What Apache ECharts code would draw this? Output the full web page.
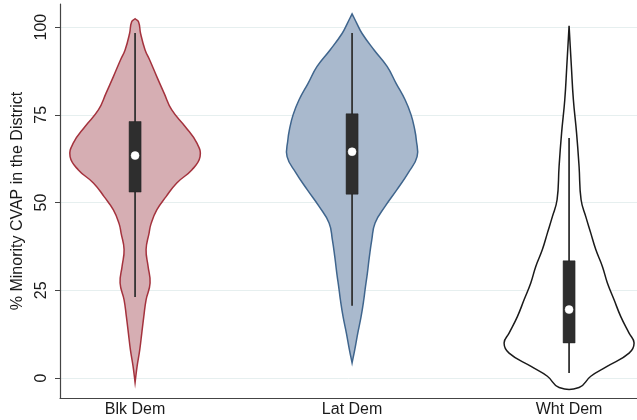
<!DOCTYPE html>
<html>
<head>
<meta charset="utf-8">
<script src="https://cdn.jsdelivr.net/npm/echarts@6/dist/echarts.min.js"></script>
<style>
  html, body { margin: 0; padding: 0; background: #fff; }
  #chart { width: 637px; height: 420px; }
</style>
</head>
<body>
<div id="chart"></div>
<script>
// ---- data ----
const categories = ['Blk Dem', 'Lat Dem', 'Wht Dem'];
const yTicks = [0, 25, 50, 75, 100];

// density profiles (value on y, relative density)
const blkY       = [102.4, 101.5, 98.2, 93.5, 90.7, 85.9, 81.2, 76.4, 71.7, 67.0, 63.1, 59.3, 55.6, 51.7, 47.9, 44.0, 41.3, 36.6, 31.8, 27.1, 22.3, 17.5, 12.8, 8.1, 3.3, -1.3];
const blkDensity = [0, 3.5, 5.5, 10, 14.5, 21.7, 29, 36.7, 50, 61.7, 65, 56.7, 41.7, 31, 21.7, 16, 14, 11, 13, 15, 11, 8.7, 6.7, 4.7, 2, 0];

const latY       = [103.8, 101.1, 98.2, 93.5, 88.8, 84.0, 79.3, 75.0, 71.0, 67.9, 63.1, 58.4, 53.6, 48.9, 44.2, 39.4, 34.6, 29.9, 25.2, 22.3, 17.5, 12.8, 8.1, 4.3];
const latDensity = [0, 4.7, 10, 22, 35, 44, 53, 59, 62.5, 64.2, 65, 56, 44.7, 33, 23, 19.7, 17.3, 15.3, 13, 11.7, 9, 5.7, 2.7, 0];

const whtY       = [100.4, 88.8, 79.3, 69.8, 60.3, 50.8, 46.0, 41.3, 36.6, 31.8, 27.1, 22.3, 17.5, 12.8, 10.0, 7.1, 3.3, 0.5, -2.7];
const whtDensity = [0, 2.3, 4.3, 7.5, 10, 12, 16.7, 21.7, 26.7, 33.3, 38.3, 45, 51.7, 60, 65, 60, 38, 21.7, 10];

// box plot statistics
const whiskerHigh = [98.3, 98.3, 68.4];
const q3          = [73.1, 75.3, 33.4];
const median      = [63.4, 64.5, 19.5];
const q1          = [53.0, 52.4, 10.0];
const whiskerLow  = [23.1, 20.6, 1.4];

// ---- styles ----
const fills   = ['#d6aeb3', '#a9b9cd', '#ffffff'];
const strokes = ['#a4323d', '#3f658d', '#1a1a1a'];
const profilesY = [blkY, latY, whtY];
const profilesD = [blkDensity, latDensity, whtDensity];
const HALF_MAX_PX = 65;
const BOX_HALF_PX = 6;

const chart = echarts.init(document.getElementById('chart'), null, { renderer: 'canvas' });

function renderViolin(params, api) {
  const idx = api.value(0) - 1;
  const ys = profilesY[idx];
  const ds = profilesD[idx];
  const maxD = Math.max.apply(null, ds);
  const cx = api.coord([idx + 1, 0])[0];
  const right = [], left = [];
  for (let k = 0; k < ys.length; k++) {
    const py = api.coord([idx + 1, ys[k]])[1];
    const w = ds[k] / maxD * HALF_MAX_PX;
    right.push([cx + w, py]);
    left.push([cx - w, py]);
  }
  const pts = right.concat(left.reverse());
  const yHi = api.coord([idx + 1, whiskerHigh[idx]])[1];
  const yLo = api.coord([idx + 1, whiskerLow[idx]])[1];
  const yQ3 = api.coord([idx + 1, q3[idx]])[1];
  const yQ1 = api.coord([idx + 1, q1[idx]])[1];
  const yMed = api.coord([idx + 1, median[idx]])[1];
  return {
    type: 'group',
    children: [
      { type: 'polygon', shape: { points: pts, smooth: 0.45 },
        style: { fill: fills[idx], stroke: strokes[idx], lineWidth: 1.5 } },
      { type: 'line', shape: { x1: cx, y1: yHi, x2: cx, y2: yLo },
        style: { stroke: '#333333', lineWidth: 1.8 } },
      { type: 'rect', shape: { x: cx - BOX_HALF_PX, y: yQ3, width: BOX_HALF_PX * 2, height: yQ1 - yQ3 },
        style: { fill: '#2e2e2e', stroke: '#222', lineWidth: 0.5 } },
      { type: 'circle', shape: { cx: cx, cy: yMed, r: 4 },
        style: { fill: '#ffffff', stroke: '#ffffff', lineWidth: 0.5 } }
    ]
  };
}

chart.setOption({
  animation: false,
  backgroundColor: '#ffffff',
  grid: { left: 60, right: 0, top: 4, bottom: 22, containLabel: false, outerBoundsMode: 'none' },
  xAxis: {
    type: 'value',
    min: 0.654,
    max: 3.313,
    splitLine: { show: false },
    axisLine: { show: true, onZero: false, lineStyle: { color: '#444', width: 1.2 } },
    axisTick: { show: false },
    axisLabel: {
      customValues: [1, 2, 3],
      formatter: function (v) { return categories[Math.round(v) - 1] || ''; },
      margin: 4,
      fontSize: 16,
      color: '#1a1a1a',
      fontFamily: 'Liberation Sans, Arial, sans-serif'
    }
  },
  yAxis: {
    type: 'value',
    min: -5.7,
    max: 106.6,
    name: '% Minority CVAP in the District',
    nameLocation: 'middle',
    nameRotate: 90,
    nameGap: 34,
    nameTextStyle: { fontSize: 16, color: '#1a1a1a', fontFamily: 'Liberation Sans, Arial, sans-serif' },
    axisLine: { show: true, lineStyle: { color: '#444', width: 1.2 } },
    axisTick: { show: true, length: 5, customValues: yTicks, lineStyle: { color: '#444' } },
    axisLabel: {
      customValues: yTicks,
      rotate: 90,
      margin: 10,
      fontSize: 16,
      color: '#1a1a1a',
      fontFamily: 'Liberation Sans, Arial, sans-serif'
    },
    splitLine: { show: true, lineStyle: { color: '#e6efef', width: 1 } }
  },
  series: [{
    type: 'custom',
    renderItem: renderViolin,
    data: [[1], [2], [3]],
    encode: { x: 0 },
    clip: false,
    silent: true
  }]
});
</script>
</body>
</html>
